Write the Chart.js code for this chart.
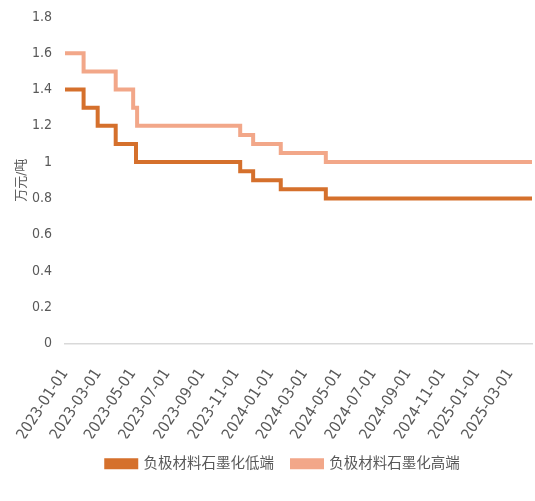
<!DOCTYPE html>
<html>
<head>
<meta charset="utf-8">
<script src="https://cdn.jsdelivr.net/npm/chart.js@4/dist/chart.umd.min.js"></script>
<style>
html,body{margin:0;padding:0;background:#fff;}
#wrap{width:535px;height:501px;}
</style>
</head>
<body>
<div id="wrap"><canvas id="c" width="535" height="501"></canvas></div>
<script>
const seriesNames = ['负极材料石墨化低端', '负极材料石墨化高端'];
const lowDates = ['2023-01-01','2023-02-03','2023-02-28','2023-04-01','2023-05-07','2023-11-08','2023-12-01','2024-01-19','2024-04-08','2025-04-09'];
const lowValues = [1.4, 1.3, 1.2, 1.1, 1.0, 0.95, 0.9, 0.85, 0.8, 0.8];
const highDates = ['2023-01-01','2023-02-03','2023-04-01','2023-05-02','2023-05-09','2023-11-08','2023-12-01','2024-01-19','2024-04-08','2025-04-09'];
const highValues = [1.6, 1.5, 1.4, 1.3, 1.2, 1.15, 1.1, 1.05, 1.0, 1.0];
const xTickLabels = ['2023-01-01','2023-03-01','2023-05-01','2023-07-01','2023-09-01','2023-11-01','2024-01-01','2024-03-01','2024-05-01','2024-07-01','2024-09-01','2024-11-01','2025-01-01','2025-03-01'];
const yTickLabels = ['0','0.2','0.4','0.6','0.8','1','1.2','1.4','1.6','1.8'];
const yTitle = '万元/吨';
const startDate = '2023-01-01';
const endDate = '2025-04-09';

const dayOf = s => (Date.parse(s) - Date.parse(startDate)) / 86400000;
const toPts = (d, v) => d.map((s, i) => ({x: dayOf(s), y: v[i]}));

const gray = '#595959';
const fontFam = '"Liberation Sans Narrow", "DejaVu Sans Condensed", "Noto Sans CJK SC", sans-serif';

const legendShift = {
  id: 'legendShift',
  afterUpdate(chart) {
    const lg = chart.legend;
    if (!lg) return;
    lg.left += 10; lg.right += 10;
    lg.adjustHitBoxes();
  }
};

new Chart(document.getElementById('c'), {
  type: 'line',
  data: {
    datasets: [
      {label: seriesNames[0], data: toPts(lowDates, lowValues), borderColor: '#D5702C', backgroundColor: '#D5702C', borderWidth: 4, stepped: 'before', pointRadius: 0, borderCapStyle: 'butt', borderJoinStyle: 'miter'},
      {label: seriesNames[1], data: toPts(highDates, highValues), borderColor: '#F2A789', backgroundColor: '#F2A789', borderWidth: 4, stepped: 'before', pointRadius: 0, borderCapStyle: 'butt', borderJoinStyle: 'miter'}
    ]
  },
  plugins: [legendShift],
  options: {
    responsive: false,
    animation: false,
    layout: {padding: {left: 14, right: 3, top: 17, bottom: 20}},
    plugins: {
      legend: {
        position: 'bottom',
        labels: {color: gray, font: {size: 14.5, family: fontFam}, boxWidth: 30, boxHeight: 7, padding: 18}
      },
      tooltip: {enabled: false}
    },
    scales: {
      x: {
        type: 'linear',
        min: 0,
        max: dayOf(endDate),
        afterBuildTicks: s => { s.ticks = xTickLabels.map(l => ({value: dayOf(l), label: l})); },
        afterFit: s => { s.paddingLeft = 0; s.paddingRight = 0; s.height = 95; },
        ticks: {
          color: gray, font: {size: 15.5, family: fontFam}, minRotation: 57, maxRotation: 57, autoSkip: false, padding: 22,
          callback: function(v, i) { return xTickLabels[i]; }
        },
        grid: {display: false, drawTicks: false},
        border: {display: true, color: '#D9D9D9', width: 1.5}
      },
      y: {
        min: 0, max: 1.8,
        afterBuildTicks: s => { s.ticks = yTickLabels.map(l => ({value: parseFloat(l)})); },
        afterFit: s => { s.width = 51; s.paddingTop = 0; s.paddingBottom = 0; },
        ticks: {
          color: gray, font: {size: 14, family: fontFam}, padding: 13,
          callback: function(v, i) { return yTickLabels[i]; }
        },
        grid: {display: false, drawTicks: false},
        border: {display: false},
        title: {display: true, text: yTitle, color: gray, font: {size: 13, family: fontFam}, padding: {top: 0, bottom: 4}}
      }
    }
  }
});
</script>
</body>
</html>
